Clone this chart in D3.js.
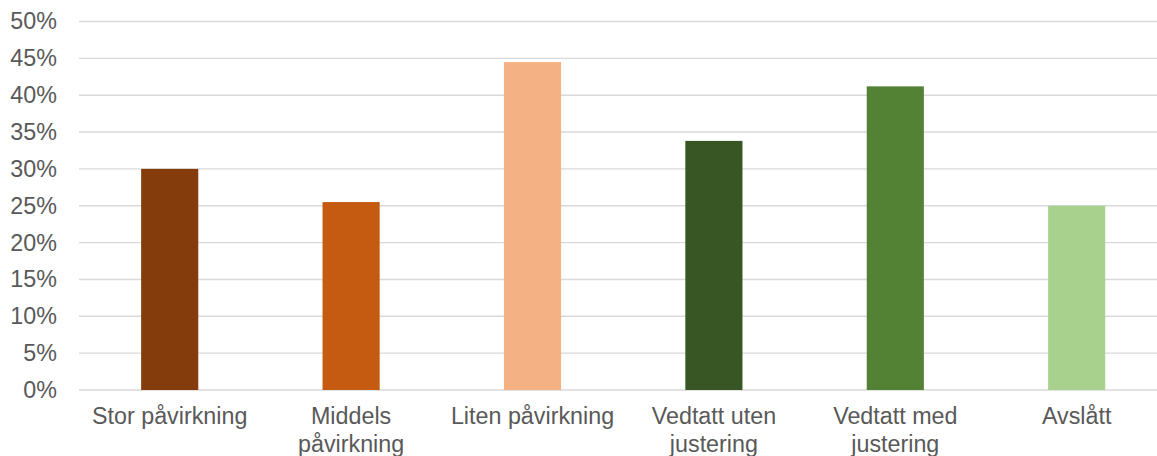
<!DOCTYPE html>
<html>
<head>
<meta charset="utf-8">
<script src="https://cdn.jsdelivr.net/npm/d3@7"></script>
<style>
  body { margin: 0; background: #fff; }
  text { font-family: "Liberation Sans", Arial, sans-serif; fill: #595959; }
</style>
</head>
<body>
<div id="chart"></div>
<script>
// categories, values (share in %), colours, y ticks
var categories = ["Stor påvirkning", "Middels påvirkning", "Liten påvirkning",
                  "Vedtatt uten justering", "Vedtatt med justering", "Avslått"];
var values = [30.0, 25.5, 44.5, 33.8, 41.2, 25.0];
var colors = ["#843C0C", "#C55A11", "#F4B183", "#375623", "#548235", "#A9D18E"];
var yTicks = [0, 5, 10, 15, 20, 25, 30, 35, 40, 45, 50];

var width = 1157, height = 456;
var margin = {top: 21.5, left: 79, bottom: 66};
var plotRight = 1167.4; // plot area runs a bit past the picture edge

var svg = d3.select("#chart").append("svg")
    .attr("width", width)
    .attr("height", height);

var x = d3.scaleBand()
    .domain(categories)
    .range([margin.left, plotRight])
    .paddingInner(0.685)
    .paddingOuter(0.3425);

var y = d3.scaleLinear()
    .domain([0, 50])
    .range([height - margin.bottom, margin.top]);

// gridlines
svg.append("g").attr("class", "grid")
    .selectAll("line")
    .data(yTicks)
    .enter().append("line")
    .attr("x1", margin.left)
    .attr("x2", width)
    .attr("y1", function(d) { return y(d); })
    .attr("y2", function(d) { return y(d); })
    .attr("stroke", "#D9D9D9")
    .attr("stroke-width", 1.4);

// y axis labels
var yAxis = d3.axisLeft(y)
    .tickValues(yTicks)
    .tickSize(0)
    .tickPadding(0)
    .tickFormat(function(d) { return d + "%"; });

var yg = svg.append("g")
    .attr("transform", "translate(57,0)")
    .call(yAxis);
yg.select(".domain").remove();
yg.selectAll("text")
    .style("font-size", "23.3px")
    .attr("fill", "#595959");

// bars
svg.selectAll(".bar")
    .data(values)
    .enter().append("rect")
    .attr("class", "bar")
    .attr("x", function(d, i) { return x(categories[i]); })
    .attr("width", x.bandwidth())
    .attr("y", function(d) { return y(d); })
    .attr("height", function(d) { return y(0) - y(d); })
    .attr("fill", function(d, i) { return colors[i]; });

// x axis labels
var xAxis = d3.axisBottom(x).tickSize(0).tickPadding(0);
var xg = svg.append("g")
    .attr("transform", "translate(0," + (y(0) + 17) + ")")
    .call(xAxis);
xg.select(".domain").remove();
xg.selectAll("text")
    .style("font-size", "23.3px")
    .attr("fill", "#595959")
    .call(wrap, 176);

function wrap(texts, w) {
    texts.each(function() {
        var text = d3.select(this),
            words = text.text().split(/\s+/).reverse(),
            word, line = [], lineNumber = 0,
            lineHeight = 28,
            dy = parseFloat(text.attr("dy")) || 0,
            tspan = text.text(null).append("tspan").attr("x", 0).attr("dy", dy + "em");
        while ((word = words.pop())) {
            line.push(word);
            tspan.text(line.join(" "));
            if (tspan.node().getComputedTextLength() > w && line.length > 1) {
                line.pop();
                tspan.text(line.join(" "));
                line = [word];
                tspan = text.append("tspan").attr("x", 0)
                    .attr("dy", lineHeight + "px").text(word);
                lineNumber++;
            }
        }
    });
}
</script>
</body>
</html>
